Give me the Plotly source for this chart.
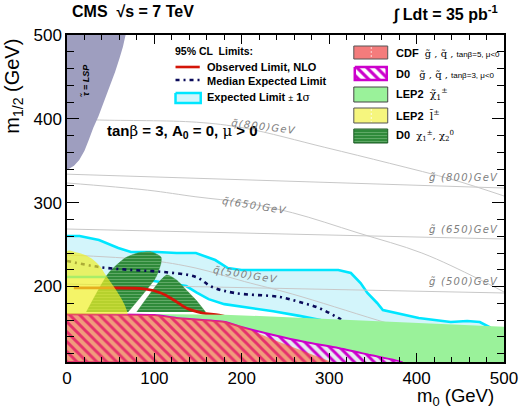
import plotly.graph_objects as go

# ---------------- data (GeV) ----------------
stau_x = [0, 8, 14, 20, 25, 30, 36, 43, 50, 55, 60, 64, 67, 0]
stau_y = [339, 344, 351, 362, 375, 389, 403, 422, 440, 456, 472, 486, 500, 500]

band_up_x = [0, 14.4, 36.6, 58.7, 73.2, 103.2, 125.3, 147.5, 169.6, 184, 199.6, 236.1, 310.4,
             324.8, 335.9, 343.7, 354.8, 361.4, 376.9, 402.4, 439, 457.9, 472.3, 480, 483.4, 495]
band_up_y = [260.3, 260.3, 255.5, 246, 241.2, 241.2, 240, 240, 231.6, 222.1, 219.7, 219.7, 219.7,
             216.1, 204.2, 192.3, 180.4, 172, 168.4, 162.5, 157.7, 158.9, 157.7, 153, 151.7, 140]
band_lo_x = [0, 47.7, 92, 136.4, 148, 162, 180, 200, 236, 266, 290, 330]
band_lo_y = [211.4, 211.4, 207.8, 200.6, 193, 185, 179, 176, 170.5, 165, 160, 140]

median_x = [0, 36.6, 74.3, 110.9, 147.5, 166.3, 191.8, 243.9, 266.1, 288.2, 310.4, 330]
median_y = [230.5, 223.3, 219.7, 217.3, 211.4, 199.4, 192.3, 187.5, 181.5, 174.4, 162.5, 150]

obs_x = [7.8, 50, 88.7, 107.5, 122, 136.4, 155.2, 174, 195]
obs_y = [198.3, 198.3, 197.1, 192.3, 184, 174.4, 168.4, 166, 160]

lep_cha_x = [0, 180, 272, 400, 500, 500, 0]
lep_cha_y = [168, 166.5, 162.5, 156.5, 152, 110, 110]

d0_x = [0, 100, 125.3, 180.7, 199.6, 236.1, 272.7, 310.4, 347, 383.6, 0]
d0_y = [167, 166, 162.5, 157.7, 151.7, 142.2, 133.8, 126.7, 118.3, 110, 110]

cdf_x = [0, 100, 125, 180, 200, 240, 303, 0]
cdf_y = [167.5, 166.5, 163, 158.5, 152.5, 135, 110, 110]

slep_x = [0, 0, 10, 20, 30, 38, 44, 52, 59, 65, 69, 69.5]
slep_y = [167, 242, 241, 238, 232, 224, 214, 202, 191, 180, 169.6, 167]

lobe1_x = [22.2, 47.7, 66.5, 80.9, 96.5, 107.5, 107.5, 103, 99.8, 69.8]
lobe1_y = [169.6, 216.1, 234, 240, 241.2, 235.2, 228.1, 214, 207.8, 169.6]
lobe2_x = [79.8, 105.3, 114.2, 125.3, 136.4, 147.5, 158.5]
lobe2_y = [169.6, 205.4, 213.8, 207.8, 195.9, 184, 169.6]

g800_x, g800_y = [0, 500], [334, 317.5]
g650_x, g650_y = [0, 500], [268.6, 256.7]
g500_x, g500_y = [0, 500], [203, 192.3]
q800_x = [0, 37, 148, 203, 295, 369, 443, 500]
q800_y = [400, 398.6, 396, 389, 366, 347, 327, 308]
q650_x = [0, 92, 147.5, 203, 258, 333, 406, 469, 500]
q650_y = [323.5, 315, 307, 300, 288, 264, 240, 210, 193.5]
q500_x = [0, 92, 147.5, 203, 258, 355, 420]
q500_y = [237.6, 231.6, 222, 206, 191, 160, 140]

iso_labels = ["g\u0303 (800)GeV", "g\u0303 (650)GeV", "g\u0303 (500)GeV",
              "q\u0303(800)GeV", "q\u0303(650)GeV", "q\u0303(500)GeV"]
iso_lab_x = [454, 454, 454, 225, 214, 204]
iso_lab_y = [330.6, 268.6, 206.6, 390.3, 296.7, 214.3]
iso_lab_ang = [0, 0, 0, 7, 9, 9]

x_ticks = [0, 100, 200, 300, 400, 500]
y_ticks = [200, 300, 400, 500]

# ---------------- geometry helpers (pixel -> paper) ----------------
W, H = 527, 409
L, R, T, B = 67, 9, 35, 47
PW, PH = W - L - R, H - T - B


def fx(px):
    return (px - L) / PW


def fy(py):
    return (H - B - py) / PH


SANS = "Liberation Sans, Arial, sans-serif"
fig = go.Figure()


def poly(x, y, axes=("x", "y"), **kw):
    fig.add_trace(go.Scatter(x=x, y=y, mode="lines", fill="toself", hoverinfo="skip",
                             showlegend=False, xaxis=axes[0], yaxis=axes[1], **kw))


def line(x, y, axes=("x", "y"), **kw):
    fig.add_trace(go.Scatter(x=x, y=y, mode="lines", hoverinfo="skip", showlegend=False,
                             xaxis=axes[0], yaxis=axes[1], **kw))


CYAN = "#00e6ff"
BANDF = "#d3f5fb"
NAVY = "#0a0a5a"
RED = "#d41508"
GREEN = "#9af29a"
MAG = "#cc00cc"
LOBE = "#2f8a3a"
DASHDOT = "4px,4px,2px,4px"

# expected band
poly(band_up_x + band_lo_x[::-1], band_up_y + band_lo_y[::-1], fillcolor=BANDF,
     line=dict(width=0, color=BANDF))
line(band_up_x, band_up_y, line=dict(color=CYAN, width=2.6))
line(band_lo_x, band_lo_y, line=dict(color=CYAN, width=2.6))

# iso-mass lines
for xs, ys in [(g800_x, g800_y), (g650_x, g650_y), (g500_x, g500_y),
               (q800_x, q800_y), (q650_x, q650_y), (q500_x, q500_y)]:
    line(xs, ys, line=dict(color="#c8c8c8", width=1, shape="spline"))

# D0 chargino/neutralino lobes
for xs, ys in [(lobe1_x, lobe1_y), (lobe2_x, lobe2_y)]:
    poly(xs, ys, fillcolor=LOBE, line=dict(width=0.5, color=LOBE, shape="spline", smoothing=0.6),
         fillpattern=dict(shape="-", fgcolor="rgba(190,230,190,0.45)", bgcolor=LOBE,
                          size=3, solidity=0.25, fillmode="replace"))

# limit lines
line(median_x, median_y, line=dict(color=NAVY, width=2.6, dash=DASHDOT, shape="spline"))
line(obs_x, obs_y, line=dict(color=RED, width=2.8, shape="spline"))

# LEP2 chargino
poly(lep_cha_x, lep_cha_y, fillcolor=GREEN, line=dict(width=0, color=GREEN))
# D0 squark/gluino (hatched)
poly(d0_x, d0_y, fillcolor="#e6eaf0", line=dict(width=2, color=MAG, shape="spline", smoothing=0.5),
     fillpattern=dict(shape="\\", fgcolor=MAG, bgcolor="#e6eaf0", size=7, solidity=0.42,
                      fillmode="replace"))
# CDF
poly(cdf_x, cdf_y, fillcolor="rgba(250,90,30,0.55)", line=dict(width=0, color="rgba(0,0,0,0)"))
# stau LSP
poly(stau_x, stau_y, fillcolor="#9e9ebf", line=dict(width=0, color="#9e9ebf"))
# LEP2 slepton (semi-transparent)
poly(slep_x, slep_y, fillcolor="rgba(240,240,40,0.7)", line=dict(width=0, color="rgba(0,0,0,0)",
                                                                   shape="spline"))

# ---------------- legend swatches (overlay axes in paper fractions) ----------------
OV = ("x2", "y2")


def box(x0, x1, y0, y1):
    return [fx(x0), fx(x1), fx(x1), fx(x0), fx(x0)], [fy(y0), fy(y0), fy(y1), fy(y1), fy(y0)]


bx, by = box(179, 205, 93, 103)
poly(bx, by, axes=OV, fillcolor=BANDF, line=dict(color=CYAN, width=2.5))
line([fx(179), fx(204)], [fy(67), fy(67)], axes=OV, line=dict(color=RED, width=2.6))
line([fx(179), fx(204)], [fy(80), fy(80)], axes=OV, line=dict(color=NAVY, width=2.6, dash=DASHDOT))

bx, by = box(363, 398, 46, 59)
poly(bx, by, axes=OV, fillcolor="#f47c7c", line=dict(color="#555", width=1))
line([fx(381), fx(381)], [fy(47), fy(58)], axes=OV, line=dict(color="rgba(255,255,255,0.7)", width=1, dash="2px,2px"))
bx, by = box(364, 397, 67, 80)
poly(bx, by, axes=OV, fillcolor="white", line=dict(color=MAG, width=2.5),
     fillpattern=dict(shape="\\", fgcolor=MAG, bgcolor="white", size=7, solidity=0.45, fillmode="replace"))
bx, by = box(363, 398, 87, 102)
poly(bx, by, axes=OV, fillcolor=GREEN, line=dict(color="#444", width=1))
bx, by = box(363, 398, 108, 123)
poly(bx, by, axes=OV, fillcolor="#f6f67e", line=dict(color="#555", width=1))
line([fx(381), fx(381)], [fy(109), fy(122)], axes=OV, line=dict(color="rgba(255,255,255,0.8)", width=1, dash="2px,2px"))
bx, by = box(363, 398, 129, 143)
poly(bx, by, axes=OV, fillcolor=LOBE, line=dict(color="#1d5a25", width=1),
     fillpattern=dict(shape="-", fgcolor="rgba(190,230,190,0.45)", bgcolor=LOBE, size=3,
                      solidity=0.25, fillmode="replace"))

# ---------------- annotations ----------------
ann = []


def text(t, x, y, size, xanchor="left", yanchor="middle", family=SANS, color="black",
         angle=0, xref="paper", yref="paper"):
    ann.append(dict(text=t, x=x, y=y, xref=xref, yref=yref, xanchor=xanchor, yanchor=yanchor,
                    showarrow=False, textangle=angle, borderpad=0,
                    font=dict(size=size, family=family, color=color)))


text("<b>CMS  \u221as = 7 TeV</b>", fx(71), fy(12), 16)
text("<b>\u222b Ldt = 35 pb<sup>-1</sup></b>", fx(513), fy(13), 16, xanchor="right")
text("<b>95% CL  Limits:</b>", fx(177), fy(51), 10.5)
text("<b>Observed Limit, NLO</b>", fx(210), fy(66.5), 11)
text("<b>Median Expected Limit</b>", fx(210), fy(80.5), 11)
text("<b>Expected Limit</b> <span style='font-size:9px'>\u00b1</span> <b>1</b><span style='font-family:DejaVu Serif'>\u03c3</span>",
     fx(210), fy(97.5), 11)

leg_r = [
    "<b>CDF</b>  <span style='font-family:DejaVu Serif;font-size:10px'>g\u0303 , q\u0303 ,</span> <span style='font-size:8px'>tan\u03b2=5, \u03bc&lt;0</span>",
    "<b>D0</b>   <span style='font-family:DejaVu Serif;font-size:10px'>g\u0303 , q\u0303 ,</span> <span style='font-size:8px'>tan\u03b2=3, \u03bc&lt;0</span>",
    "<b>LEP2</b>  <span style='font-family:DejaVu Serif;font-size:11px'>\u03c7\u0303<sub>1</sub><sup>\u00b1</sup></span>",
    "<b>LEP2</b>  <span style='font-family:DejaVu Serif;font-size:11px'>l\u0303<sup>\u00b1</sup></span>",
    "<b>D0</b>  <span style='font-family:DejaVu Serif;font-size:10px'>\u03c7<sub>1</sub><sup>\u00b1</sup>, \u03c7<sub>2</sub><sup>0</sup></span>",
]
for t, py in zip(leg_r, [52.5, 73.5, 94.5, 115.5, 136]):
    text(t, fx(406), fy(py), 11)

text("<b>tan</b><span style='font-family:DejaVu Serif'>\u03b2</span><b> = 3, A<sub>0</sub> = 0, </b><span style='font-family:DejaVu Serif'>\u03bc</span><b> &gt; 0</b>",
     fx(107), fy(131), 15)
text("<b><i>\u03c4\u0303 = LSP</i></b>", fx(87), fy(80), 9, xanchor="center", angle=-90)

for t, x, y, a in zip(iso_labels, iso_lab_x, iso_lab_y, iso_lab_ang):
    text("<i><span style='letter-spacing:1.2px'>" + t + "</span></i>", x, y, 10, xanchor="center",
         family="DejaVu Sans, sans-serif", color="#808080", angle=a, xref="x", yref="y")

text("m<sub>1/2</sub> (GeV)", fx(12), fy(86), 20, xanchor="center", angle=-90)
text("m<sub>0</sub> (GeV)", fx(509), fy(396.5), 18.5, xanchor="right")

axis_common = dict(showline=True, linecolor="black", linewidth=1.5, mirror="allticks",
                   ticks="inside", tickcolor="black", showgrid=False, zeroline=False,
                   ticklabeloverflow="allow",
                   tickfont=dict(size=17, family=SANS, color="black"))
fig.update_layout(
    width=W, height=H, margin=dict(l=L, r=R, t=T, b=B),
    paper_bgcolor="white", plot_bgcolor="white", showlegend=False,
    annotations=ann,
    xaxis=dict(range=[0, 500], tickvals=x_ticks, ticklen=9, tickwidth=1.2,
               minor=dict(ticks="inside", ticklen=5, dtick=20, tick0=0, tickcolor="black", showgrid=False),
               **axis_common),
    yaxis=dict(range=[110, 500], tickvals=y_ticks, ticklen=12, tickwidth=1.2,
               minor=dict(ticks="inside", ticklen=7, dtick=20, tick0=0, tickcolor="black", showgrid=False),
               **axis_common),
    xaxis2=dict(overlaying="x", range=[0, 1], visible=False, anchor="y2"),
    yaxis2=dict(overlaying="y", range=[0, 1], visible=False, anchor="x2"),
)

fig.write_html("out.html")
